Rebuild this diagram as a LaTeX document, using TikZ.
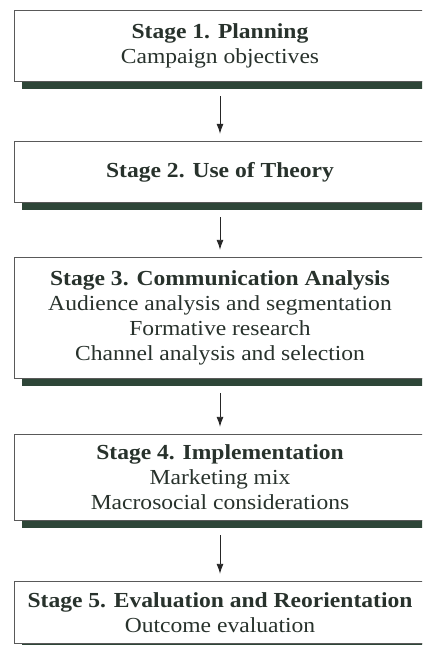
\documentclass[tikz,border=0pt]{standalone}
\usepackage{fontspec}
\setmainfont{Liberation Serif}[FakeStretch=1.1]
\usepackage{tikz}
\usetikzlibrary{positioning,arrows.meta}

\definecolor{inkgreen}{RGB}{40,50,44}
\definecolor{bargreen}{RGB}{46,70,56}

\tikzset{
  stagebox/.style={minimum width=410bp, align=center, text=inkgreen,
    font=\fontsize{21.5}{25}\selectfont},
  frame/.style={draw=black!65, line width=0.8bp},
  flow/.style={draw=black!85, line width=0.9bp, -{Latex[length=10bp,width=7bp]},
    shorten <=15bp, shorten >=8bp}
}

\begin{document}
\begin{tikzpicture}[x=1bp, y=-1bp]
\clip (0,0) rectangle (422,645);
\fill[white] (0,0) rectangle (422,645);
% the five stages, top to bottom
\node[stagebox, minimum height=70bp] (s1) at (220,46) {\textbf{Stage 1. Planning}\\Campaign objectives};
\node[stagebox, minimum height=60bp] (s2) at (220,172) {\textbf{Stage 2. Use of Theory}};
\node[stagebox, minimum height=120bp] (s3) at (220,318) {\textbf{Stage 3. Communication Analysis}\\Audience analysis and segmentation\\Formative research\\Channel analysis and selection};
\node[stagebox, minimum height=85bp] (s4) at (220,477.5) {\textbf{Stage 4. Implementation}\\Marketing mix\\Macrosocial considerations};
\node[stagebox, minimum height=61bp] (s5) at (220,612.5) {\textbf{Stage 5. Evaluation and Reorientation}\\Outcome evaluation};
% frames run off the right edge, thick bar under each
\foreach \n in {s1,s2,s3,s4,s5} {
  \fill[bargreen] ([xshift=7bp]\n.south west) rectangle ([xshift=30bp,yshift=-8bp]\n.south east);
  \draw[frame] (\n.north west) rectangle ([xshift=20bp]\n.south east);
}
% arrows between stages
\foreach \a/\b in {s1/s2,s2/s3,s3/s4,s4/s5}
  \draw[flow] (\a) -- (\b);
\end{tikzpicture}
\end{document}
